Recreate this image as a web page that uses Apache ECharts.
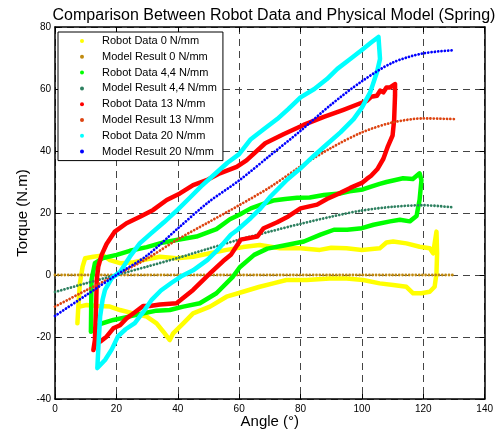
<!DOCTYPE html>
<html>
<head>
<meta charset="utf-8">
<title>Robot Data vs Physical Model</title>
<script src="https://cdn.jsdelivr.net/npm/echarts@6/dist/echarts.min.js"></script>
<style>
  html, body { margin: 0; padding: 0; background: #fff; }
  #chart { width: 496px; height: 443px; }
</style>
</head>
<body>
<div id="chart"></div>
<script>
// ---- data ----
var modelAngle = [0, 10, 20, 30, 40, 50, 60, 70, 80, 90, 100, 110, 120, 130];
var model0Torque = [0, 0, 0, 0, 0, 0, 0, 0, 0, 0, 0, 0, 0, 0];
var model44Torque = [-5.5, -2.7, 0, 2.7, 5.5, 8.5, 11.4, 14, 16.5, 18.8, 20.8, 22, 22.5, 21.8];
var model13Torque = [-10.2, -5, 0, 5.3, 11.5, 17, 22.5, 28.3, 35, 41, 46, 49.2, 50.5, 50.3];
var model20Torque = [-13.2, -6.6, 0, 6.3, 15, 23.5, 30.5, 38.5, 46.5, 55, 62.5, 68.5, 71.5, 72.5];

var robot0Angle = [7.3, 7.6, 8.1, 9, 9.8, 12.5, 15.7, 17.9, 21.2, 25,
  28.7, 34.2, 39.6, 45, 50.5, 55.9, 61.3, 66.7, 73.3, 80,
  86.3, 90, 95, 100, 105.8, 108, 110.2, 114.5, 118.8, 122.1,
  123.2, 124.3, 124.5, 124.3, 123.7, 122.1, 119.4, 116.7, 114.5, 110.2,
  105.8, 100.4, 95, 89.5, 82, 75.4, 71.1, 66.7, 61.3, 55.9,
  50.5, 45, 41.8, 38.5, 37.4, 35.3, 33.1, 29.9, 25.5, 21.2,
  17.9, 14.1, 10.3, 8];
var robot0Torque = [-15.6, -10.2, -2.7, 2.7, 5.4, 5.9, 6.3, 4.8, 3.8, 4,
  4.8, 5.9, 5.4, 5.9, 7, 8.1, 9, 9.7, 8.6, 8.6,
  8.1, 8.8, 8.6, 8.1, 8.6, 10.5, 10.8, 10.2, 9.1, 8.6,
  7, 14, 7, 0.5, -3.8, -5.4, -5.9, -5.9, -3.8, -3.2,
  -2.7, -1.6, -1.1, -1.1, -1.6, -1.6, -2.7, -3.8, -5.4, -7,
  -10.2, -12.4, -15.6, -18.8, -21, -18.3, -15.6, -13.4, -12.4, -11.3,
  -10.2, -10, -9.7, -10.2];

var robot44Angle = [11.7, 11.9, 13, 15.7, 20.1, 24.4, 29.9, 35.3, 39.6, 46.1,
  52.6, 57, 60.2, 63.8, 68.1, 71.1, 75, 78.9, 83, 87.6,
  92.8, 96, 100.3, 103, 105.8, 108, 110.2, 113.4, 116.6, 118.8,
  119.4, 118.8, 117.8, 115.6, 112.4, 109.2, 103.8, 100, 95.2, 90.9,
  86.5, 81.1, 74.6, 69.2, 64.9, 60.2, 58, 52.6, 47.2, 41.8,
  37.4, 33.1, 27.7, 23.3, 19, 14.7, 12.5, 11.7];
var robot44Torque = [-18.3, -1.6, 3.8, 5.5, 6.5, 7.8, 9, 10.5, 11.3, 12.4,
  14.8, 18, 19.5, 21.5, 23, 24, 24.5, 24.9, 25, 25.8,
  26.3, 27, 27.6, 28.5, 29.4, 30, 30.5, 31.2, 31, 32.8,
  30.6, 24.3, 19, 17.3, 17.8, 17.3, 16.2, 15.1, 14.6, 14.6,
  13, 10.8, 9.5, 8.5, 6.5, 2.5, -0.5, -5.9, -9.1, -10.2,
  -11.3, -11.5, -12.6, -13.6, -14.5, -15.8, -17.7, -18.3];

var robot13Angle = [12.5, 13, 13.4, 13.6, 14.1, 15.2, 16.8, 19.5, 23.3, 27.7,
  32, 36.4, 40.7, 45, 49.4, 53.7, 59.2, 62.4, 68.5, 74.6,
  81, 87.6, 94, 99.5, 101.6, 103, 104.9, 106, 107, 108,
  109.2, 110.8, 111, 110.8, 110.5, 110, 108.5, 107, 105, 103,
  101.6, 100, 96.2, 93, 88.6, 85.4, 80, 76, 72.4, 68,
  65.9, 60.5, 57.3, 54.8, 50.5, 45, 39.6, 34.2, 30.9, 28.7,
  25.5, 23.3, 21.2, 19, 16.8, 14.7, 13, 12.5];
var robot13Torque = [-24.2, -21, -10.2, -1.6, 2.7, 6.5, 10, 14, 16.7, 18.8,
  21, 24.2, 26.3, 29, 30.6, 32.8, 34.9, 37, 42.5, 45.5,
  48.4, 51, 53.3, 55.4, 56.2, 57.5, 57.8, 59.5, 58.9, 60.5,
  60.5, 61.6, 61.5, 58, 50, 45, 41.6, 37.5, 34.1, 32,
  31, 29.7, 28.1, 26.5, 24.5, 22.7, 21.5, 18.9, 17, 15.1,
  12.4, 11.4, 6.5, 4.5, 0.5, -4.8, -9.1, -9.5, -10, -10,
  -12.4, -14, -16.2, -17.2, -19.9, -21.5, -22.5, -24.2];

var robot20Angle = [13.8, 14.2, 14.7, 15.5, 16.3, 18.5, 21.2, 24.4, 27.7, 31.4,
  35.5, 40, 44, 47.6, 52, 56.2, 60, 63.8, 68, 72.4,
  76, 80, 84.5, 88.6, 92, 96.2, 100.5, 103, 105.4, 105.9,
  105.9, 104.9, 102.7, 100, 97.3, 93, 88.6, 84.3, 80, 75.7,
  70.3, 67, 63.8, 59.5, 57.3, 53, 49.7, 45, 41, 38,
  34.5, 31.5, 28.7, 26, 23, 20.5, 18.5, 16.3, 13.8];
var robot20Torque = [-30, -22, -13.4, -8, -4.8, -1, 1, 5.9, 10.3, 13.5,
  17, 21.1, 25, 28.6, 32.5, 36.2, 39, 43.8, 47, 50.3,
  53.5, 57.3, 60, 63.2, 66.5, 69.7, 73, 75, 76.8, 76.5,
  69.7, 65.4, 58.9, 54, 50.3, 46, 42.2, 38.4, 34.4, 30.8,
  25.4, 21.5, 18.4, 14.6, 13, 8.1, 4.9, 1.5, -0.5, -2.5,
  -5, -8, -12, -15.5, -17.5, -19.8, -24, -27.4, -30];

function pairs(xs, ys) {
  var out = [];
  for (var i = 0; i < xs.length; i++) {
    out.push([xs[i], ys[i]]);
  }
  return out;
}

// robot measurement: thick solid trace
function robotSeries(name, color, xs, ys) {
  return {
    name: name,
    type: "line",
    data: pairs(xs, ys),
    showSymbol: false,
    symbol: "circle",
    itemStyle: { color: color },
    lineStyle: { color: color, width: 4.5, join: "round", cap: "round" },
    animation: false
  };
}

// model result: dotted trace (round caps on zero-length dashes)
function modelSeries(name, color, ys) {
  return {
    name: name,
    type: "line",
    data: pairs(modelAngle, ys),
    smooth: 0.3,
    showSymbol: false,
    symbol: "circle",
    itemStyle: { color: color },
    lineStyle: { color: color, width: 2.8, type: [0.01, 3.3], cap: "round" },
    animation: false
  };
}

// frame axis (top / right): line and inner ticks only
function frameAxis(pos, min, max) {
  return {
    type: "value", position: pos,
    min: min, max: max, interval: 20,
    axisLine: { show: true, onZero: false, lineStyle: { color: "#000", width: 1.5 } },
    axisTick: { show: true, inside: true, length: 5, lineStyle: { color: "#000" } },
    axisLabel: { show: false },
    splitLine: { show: false }
  };
}

var chart = echarts.init(document.getElementById("chart"), null, { renderer: "canvas" });
var axisFont = "Liberation Sans, Arial, sans-serif";
var gridLine = { show: true, lineStyle: { color: "#444", type: [7, 5], width: 1 } };

var option = {
  backgroundColor: "#fff",
  animation: false,
  title: {
    text: "Comparison Between Robot Data and Physical Model (Spring)",
    left: 269,
    top: 3,
    textAlign: "center",
    textStyle: { fontFamily: axisFont, fontSize: 16, fontWeight: "normal", color: "#000" }
  },
  grid: { left: 55, right: 11, top: 27, bottom: 44 },
  legend: {
    orient: "vertical",
    left: 58,
    top: 32,
    icon: "circle",
    itemWidth: 30,
    itemHeight: 4,
    itemGap: 1.8,
    padding: [2, 6, 2, 22],
    backgroundColor: "#fff",
    borderColor: "#000",
    borderWidth: 1,
    textStyle: { fontFamily: axisFont, fontSize: 11, color: "#000", lineHeight: 14 },
    selectedMode: false
  },
  xAxis: [{
    type: "value", position: "bottom",
    min: 0, max: 140, interval: 20,
    name: "Angle (\u00b0)", nameLocation: "middle", nameGap: 15, nameMoveOverlap: false,
    nameTextStyle: { fontFamily: axisFont, fontSize: 15, color: "#000" },
    axisLine: { show: true, onZero: false, lineStyle: { color: "#000", width: 1.5 } },
    axisTick: { show: true, inside: true, length: 5, lineStyle: { color: "#000" } },
    axisLabel: { fontFamily: axisFont, fontSize: 10, color: "#000", margin: 5 },
    splitLine: gridLine
  }, frameAxis("top", 0, 140)],
  yAxis: [{
    type: "value", position: "left",
    min: -40, max: 80, interval: 20,
    name: "Torque (N.m)", nameLocation: "middle", nameGap: 25, nameMoveOverlap: false,
    nameTextStyle: { fontFamily: axisFont, fontSize: 15, color: "#000" },
    axisLine: { show: true, onZero: false, lineStyle: { color: "#000", width: 1.5 } },
    axisTick: { show: true, inside: true, length: 5, lineStyle: { color: "#000" } },
    axisLabel: { fontFamily: axisFont, fontSize: 10, color: "#000", margin: 4 },
    splitLine: gridLine
  }, frameAxis("right", -40, 80)],
  series: [
    robotSeries("Robot Data 0 N/mm", "#ffff00", robot0Angle, robot0Torque),
    modelSeries("Model Result 0 N/mm", "#c08a10", model0Torque),
    robotSeries("Robot Data 4,4 N/mm", "#00ff00", robot44Angle, robot44Torque),
    modelSeries("Model Result 4,4 N/mm", "#2e8060", model44Torque),
    robotSeries("Robot Data 13 N/mm", "#ff0000", robot13Angle, robot13Torque),
    modelSeries("Model Result 13 N/mm", "#dd4411", model13Torque),
    robotSeries("Robot Data 20 N/mm", "#00ffff", robot20Angle, robot20Torque),
    modelSeries("Model Result 20 N/mm", "#0000ff", model20Torque)
  ]
};
chart.setOption(option);
</script>
</body>
</html>
